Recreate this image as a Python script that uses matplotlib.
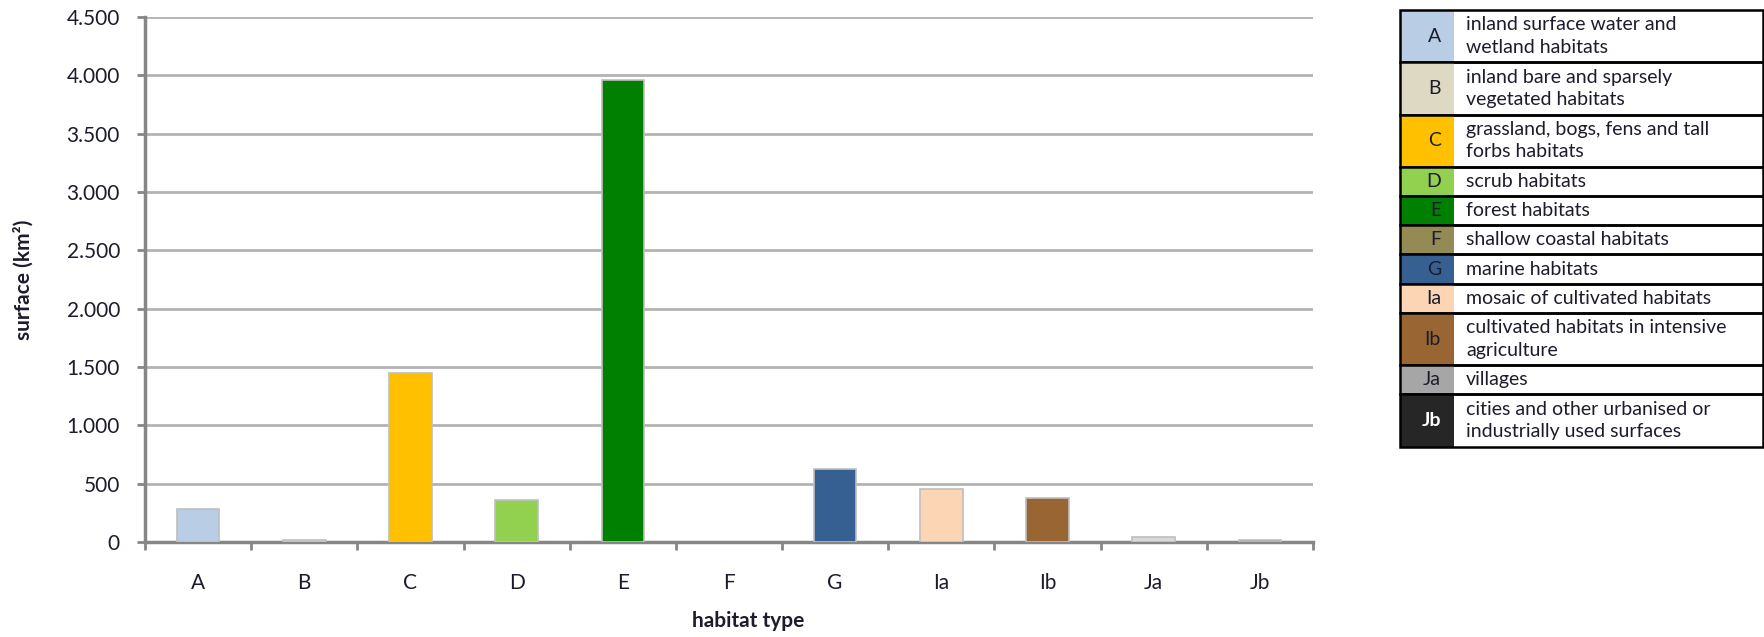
import matplotlib
matplotlib.use('Agg')
import matplotlib.pyplot as plt
from matplotlib.patches import Rectangle
from matplotlib.ticker import FuncFormatter

plt.rcParams['font.family'] = ['Lato', 'DejaVu Sans']

# data
codes = ['A', 'B', 'C', 'D', 'E', 'F', 'G', 'Ia', 'Ib', 'Ja', 'Jb']
surface = [285, 15, 1450, 360, 3960, 0, 627, 458, 378, 45, 18]
bar_colors = ['#B9CDE5', '#DDD9C3', '#FFC000', '#92D050', '#008000', '#948A54',
              '#376092', '#FCD5B5', '#996633', '#D9D9D9', '#808080']
cell_colors = ['#B9CDE5', '#DDD9C3', '#FFC000', '#92D050', '#008000', '#948A54',
               '#376092', '#FCD5B5', '#996633', '#A6A6A6', '#262626']
descriptions = ['inland surface water and\nwetland habitats',
                'inland bare and sparsely\nvegetated habitats',
                'grassland, bogs, fens and tall\nforbs habitats',
                'scrub habitats',
                'forest habitats',
                'shallow coastal habitats',
                'marine habitats',
                'mosaic of cultivated habitats',
                'cultivated habitats in intensive\nagriculture',
                'villages',
                'cities and other urbanised or\nindustrially used surfaces']

W, H = 1764, 637
fig = plt.figure(figsize=(W / 100, H / 100), dpi=100)
ax = fig.add_axes([145 / W, 1 - 542 / H, (1313 - 145) / W, (542 - 17) / H])

txt = '#1C1C2C'
x = list(range(len(codes)))
ax.bar(x, surface, width=0.4, color=bar_colors, edgecolor='#BFBFBF',
       linewidth=[1.2 if v > 0 else 0 for v in surface], zorder=3)

ax.set_xlim(-0.5, len(codes) - 0.5)
ax.set_ylim(0, 4500)
ax.set_yticks(range(0, 4501, 500))
ax.yaxis.set_major_formatter(FuncFormatter(lambda v, p: f'{int(v):,}'.replace(',', '.')))
ax.grid(axis='y', color='#B3B3B3', linewidth=2, zorder=0)
ax.set_axisbelow(True)

ax.set_xticks(x)
ax.set_xticklabels(codes)
ax.set_xticks([i - 0.5 for i in range(len(codes) + 1)], minor=True)
ax.tick_params(axis='x', which='major', length=0, pad=22, labelsize=15, labelcolor=txt)
ax.tick_params(axis='x', which='minor', length=6, width=2, color='#868686', direction='out')
ax.tick_params(axis='y', length=6, width=2, color='#868686', pad=12, labelsize=15, labelcolor=txt)

for s in ['top', 'right']:
    ax.spines[s].set_visible(False)
for s in ['left', 'bottom']:
    ax.spines[s].set_color('#868686')
    ax.spines[s].set_linewidth(2.5)

ax.set_ylabel('surface (km²)', fontsize=15, fontweight='bold', color=txt)
ax.yaxis.set_label_coords(-0.095, 0.5)
fig.text(748 / W, 1 - 621 / H, 'habitat type', ha='center', va='center',
         fontsize=15, fontweight='bold', color=txt)

# legend table, drawn in pixel space
tab = fig.add_axes([0, 0, 1, 1])
tab.set_xlim(0, W)
tab.set_ylim(H, 0)
tab.axis('off')
left, mid, right = 1400, 1454, W - 1
top = 10
single, double = 29.2, 52.3
for code, col, desc in zip(codes, cell_colors, descriptions):
    h = double if '\n' in desc else single
    tab.add_patch(Rectangle((left, top), mid - left, h, facecolor=col, edgecolor='none'))
    tab.add_patch(Rectangle((left, top), right - left, h, facecolor='none',
                            edgecolor='black', linewidth=1.8))
    fg = 'white' if code == 'Jb' else txt
    tab.text(mid - 13, top + h / 2, code, ha='right', va='center', fontsize=14,
             color=fg, fontweight='bold' if code == 'Jb' else 'normal')
    tab.text(mid + 12, top + h / 2, desc, ha='left', va='center', fontsize=14,
             color=txt, linespacing=1.38)
    top += h

fig.savefig('out.png', dpi=100)
